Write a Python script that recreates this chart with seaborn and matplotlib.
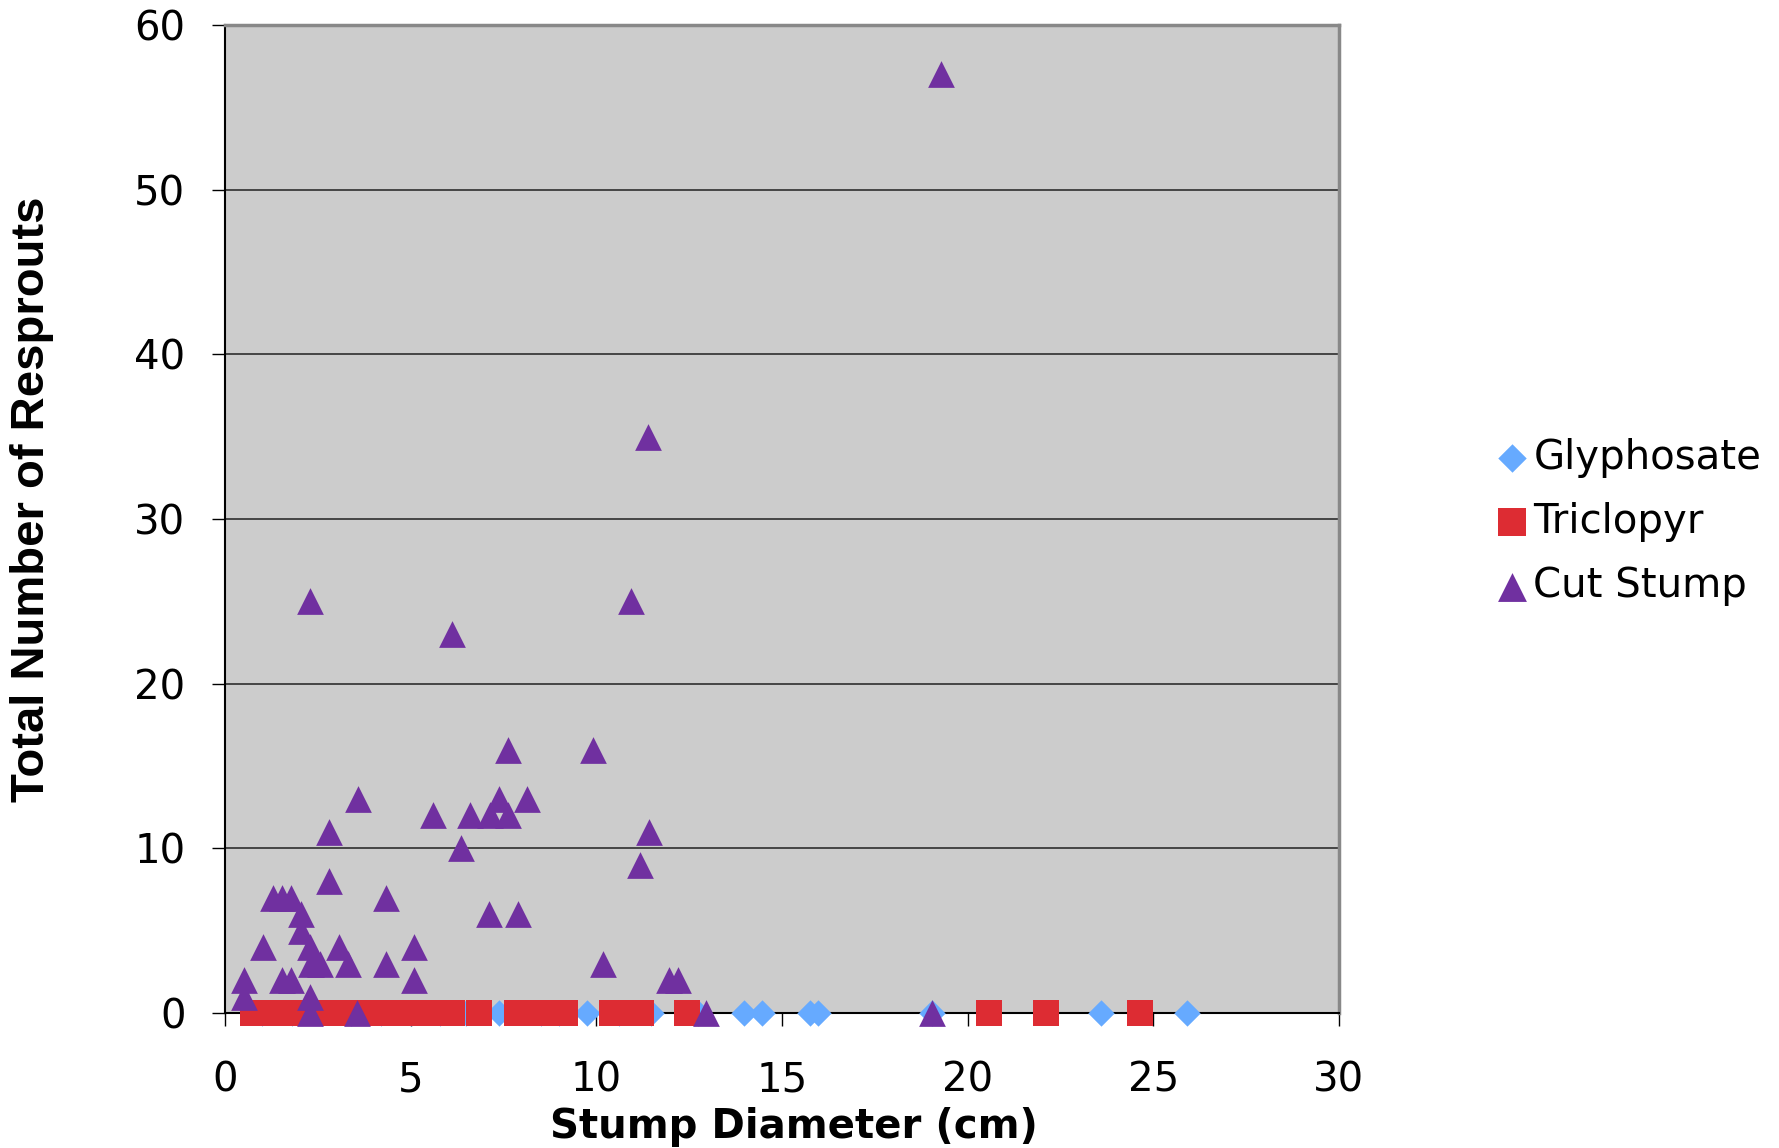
import matplotlib
matplotlib.use("Agg")
import matplotlib.pyplot as plt
import seaborn as sns
import pandas as pd

# ---- data ----
gly_x = [1.0, 1.8, 2.6, 3.4, 4.2, 5.0, 5.8, 6.5, 7.38, 8.5, 9.0, 9.75, 10.6, 11.46, 12.75,
         13.97, 14.47, 15.76, 15.98, 19.05, 23.6, 25.9]
gly_y = [0] * len(gly_x)

tri_x = [0.76, 1.2, 1.6, 2.0, 2.4, 2.8, 3.2, 3.6, 4.0, 4.4, 4.8, 5.2, 5.6, 5.9, 6.12, 6.85,
         7.87, 8.3, 8.7, 9.16, 10.41, 10.8, 11.19, 12.45, 20.58, 22.1, 24.63]
tri_y = [0] * len(tri_x)

cut_x = [19.28, 11.39, 2.30, 10.93, 6.10, 7.63, 9.92, 3.57, 7.38, 8.14, 5.60, 6.61, 7.13, 7.63,
         2.81, 11.43, 6.36, 11.18, 2.81, 1.28, 1.54, 1.79, 4.34, 2.05, 7.12, 7.88, 2.05, 1.03,
         2.30, 3.06, 5.09, 2.31, 2.56, 3.31, 4.34, 10.17, 0.52, 1.54, 1.79, 5.09, 11.95, 12.19,
         0.52, 2.30, 2.30, 3.56, 12.95, 19.05]
cut_y = [57, 35, 25, 25, 23, 16, 16, 13, 13, 13, 12, 12, 12, 12,
         11, 11, 10, 9, 8, 7, 7, 7, 7, 6, 6, 6, 5, 4,
         4, 4, 4, 3, 3, 3, 3, 3, 2, 2, 2, 2, 2, 2,
         1, 1, 0, 0, 0, 0]

series_names = ["Glyphosate", "Triclopyr", "Cut Stump"]
x_ticks = [0, 5, 10, 15, 20, 25, 30]
y_ticks = [0, 10, 20, 30, 40, 50, 60]

# ---- figure ----
fig = plt.figure(figsize=(17.79, 11.48), dpi=100)
ax = fig.add_axes([225 / 1779, 1 - 1013 / 1148, 1114 / 1779, 988 / 1148])
ax.set_facecolor("#CCCCCC")

df_g = pd.DataFrame({"x": gly_x, "y": gly_y})
df_t = pd.DataFrame({"x": tri_x, "y": tri_y})
df_c = pd.DataFrame({"x": cut_x, "y": cut_y})

sns.scatterplot(data=df_g, x="x", y="y", marker="D", color="#66AAFF", s=180,
                linewidth=0, label=series_names[0], ax=ax, clip_on=False, zorder=3)
sns.scatterplot(data=df_t, x="x", y="y", marker="s", color="#DD2C33", s=350,
                linewidth=0, label=series_names[1], ax=ax, clip_on=False, zorder=4)
sns.scatterplot(data=df_c, x="x", y="y", marker="^", color="#7030A0", s=370,
                linewidth=0, label=series_names[2], ax=ax, clip_on=False, zorder=5)

ax.set_xlim(0, 30)
ax.set_ylim(0, 60)
ax.set_xticks(x_ticks)
ax.set_yticks(y_ticks)
ax.set_xticklabels([str(v) for v in x_ticks], fontsize=29)
ax.set_yticklabels([str(v) for v in y_ticks], fontsize=29)
ax.tick_params(axis="both", direction="out", length=9.5, width=1.0, color="black")
ax.tick_params(axis="y", pad=19)
ax.tick_params(axis="x", pad=25)

ax.yaxis.grid(True, color="#3a3a3a", linewidth=1.3)
ax.xaxis.grid(False)
ax.set_axisbelow(True)

for s in ["left", "bottom"]:
    ax.spines[s].set_color("black")
    ax.spines[s].set_linewidth(1.5)
for s in ["top", "right"]:
    ax.spines[s].set_color("#888888")
    ax.spines[s].set_linewidth(2.5)

ax.set_xlabel("Stump Diameter (cm)", fontsize=29, fontweight="bold", family="DejaVu Sans")
ax.xaxis.set_label_coords((794 - 225) / 1114, (1013 - 1127) / 988)
ax.xaxis.label.set_va("center")
ax.set_ylabel("Total Number of Resprouts", fontsize=34, fontweight="bold",
              family="Liberation Sans")
ax.yaxis.set_label_coords((32 - 225) / 1114, (1013 - 499) / 988)
ax.yaxis.label.set_va("center")

ax.legend(loc="center left", bbox_to_anchor=(1460 / 1779, 1 - 522 / 1148),
          bbox_transform=fig.transFigure, frameon=False, fontsize=29,
          handlelength=0.8, handletextpad=0.12, labelspacing=0.6, markerscale=1.08,
          borderpad=0.4)

fig.savefig("out.png", dpi=100)
